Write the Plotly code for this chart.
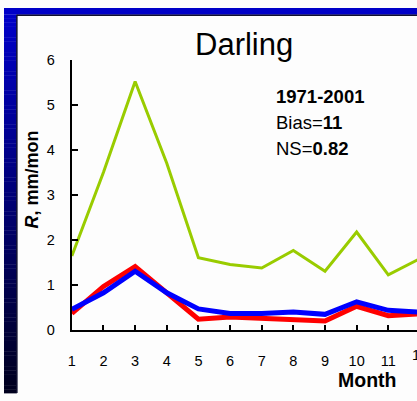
import plotly.graph_objects as go

# Monthly runoff, mm/mon
months = [1, 2, 3, 4, 5, 6, 7, 8, 9, 10, 11, 12]
green_vals = [1.64, 3.50, 5.52, 3.70, 1.60, 1.45, 1.37, 1.76, 1.30, 2.17, 1.22, 1.58]
red_vals = [0.36, 0.96, 1.40, 0.82, 0.23, 0.28, 0.25, 0.22, 0.19, 0.52, 0.31, 0.35]
blue_vals = [0.45, 0.82, 1.30, 0.82, 0.46, 0.36, 0.36, 0.39, 0.34, 0.62, 0.43, 0.39]
y_ticks = [0, 1, 2, 3, 4, 5, 6]
x_ticks = months

title_text = "Darling"
period_text = "1971-2001"
bias_text = "Bias=<b>11</b>"
ns_text = "NS=<b>0.82</b>"

W, H = 417, 401
FONT = "Arial, Liberation Sans, sans-serif"

# pixel geometry of the plotting area
ax_left = 68.5
px_per_month = 31.95
ax_bottom = 335.0
ax_top = 54.0

fig = go.Figure()
fig.add_trace(go.Scatter(x=months, y=green_vals, mode="lines",
                         line=dict(color="#99CC00", width=3), showlegend=False))
fig.add_trace(go.Scatter(x=months, y=red_vals, mode="lines",
                         line=dict(color="#FF0000", width=5), showlegend=False))
fig.add_trace(go.Scatter(x=months, y=blue_vals, mode="lines",
                         line=dict(color="#0000FF", width=5), showlegend=False))

x_max = 1 + (W - ax_left) / px_per_month

shapes = []
# blue frame along the top
shapes.append(dict(type="rect", xref="paper", yref="paper", x0=0, x1=1,
                   y0=1 - 7 / H, y1=1, fillcolor="#0000C8", line_width=0, layer="below"))
shapes.append(dict(type="line", xref="paper", yref="paper", x0=13 / W, x1=1,
                   y0=1 - 7.5 / H, y1=1 - 7.5 / H, line=dict(color="#101030", width=1.5), layer="below"))
# left frame with a blue-to-dark vertical gradient
n_strips = 100
top_c = (0, 0, 200)
bot_c = (0, 0, 30)
for i in range(n_strips):
    t = i / (n_strips - 1)
    c = tuple(int(round(top_c[k] + (bot_c[k] - top_c[k]) * t)) for k in range(3))
    y_top = 7 + (H - 7) * i / n_strips
    y_bot = 7 + (H - 7) * (i + 1) / n_strips
    shapes.append(dict(type="rect", xref="paper", yref="paper", x0=0, x1=13 / W,
                       y0=1 - y_bot / H - 0.001, y1=1 - y_top / H,
                       fillcolor="rgb(%d,%d,%d)" % c, line_width=0, layer="below"))
shapes.append(dict(type="line", xref="paper", yref="paper", x0=13 / W, x1=13 / W,
                   y0=0, y1=1 - 7 / H, line=dict(color="#101030", width=1.5), layer="below"))

annotations = [
    dict(text=title_text, x=242 / W, y=1 - 38 / H, xref="paper", yref="paper",
         showarrow=False, xanchor="center", yanchor="middle",
         font=dict(family=FONT, size=31, color="#000000")),
    dict(text="<b>" + period_text + "</b>", x=273 / W, y=1 - 92.5 / H, xref="paper", yref="paper",
         showarrow=False, xanchor="left", yanchor="middle",
         font=dict(family=FONT, size=18.5, color="#000000")),
    dict(text=bias_text, x=273 / W, y=1 - 119.2 / H, xref="paper", yref="paper",
         showarrow=False, xanchor="left", yanchor="middle",
         font=dict(family=FONT, size=18.5, color="#000000")),
    dict(text=ns_text, x=273 / W, y=1 - 146 / H, xref="paper", yref="paper",
         showarrow=False, xanchor="left", yanchor="middle",
         font=dict(family=FONT, size=18.5, color="#000000")),
    dict(text="<b><i>R</i>, mm/mon</b>", x=28 / W, y=1 - 179 / H, xref="paper", yref="paper",
         showarrow=False, xanchor="center", yanchor="middle", textangle=-90,
         font=dict(family=FONT, size=18, color="#000000")),
    dict(text="<b>Month</b>", x=366.5 / W, y=1 - 387.5 / H, xref="paper", yref="paper",
         showarrow=False, xanchor="center", yanchor="middle",
         font=dict(family=FONT, size=19.5, color="#000000")),
    # last month label sits past the right edge of the axis range
    dict(text=str(x_ticks[-1]), x=(ax_left + (x_ticks[-1] - 1) * px_per_month) / W,
         y=1 - 361 / H, xref="paper", yref="paper",
         showarrow=False, xanchor="center", yanchor="middle",
         font=dict(family=FONT, size=14.5, color="#000000")),
]

fig.update_layout(
    width=W, height=H,
    margin=dict(l=0, r=0, t=0, b=0),
    paper_bgcolor="#FDFDFD",
    plot_bgcolor="#FDFDFD",
    shapes=shapes,
    annotations=annotations,
    xaxis=dict(domain=[ax_left / W, 1], range=[1, x_max],
               tickmode="array", tickvals=x_ticks[:-1], ticktext=[str(v) for v in x_ticks[:-1]],
               ticks="inside", ticklen=5, tickwidth=1.5, tickcolor="#000000",
               showline=True, linecolor="#000000", linewidth=2,
               showgrid=False, zeroline=False, ticklabelstandoff=17,
               tickfont=dict(family=FONT, size=14.5, color="#000000")),
    yaxis=dict(domain=[1 - ax_bottom / H, 1 - ax_top / H], range=[0, 6],
               tickmode="array", tickvals=y_ticks,
               ticks="inside", ticklen=6, tickwidth=1.5, tickcolor="#000000",
               showline=True, linecolor="#000000", linewidth=2,
               showgrid=False, zeroline=False, ticklabelstandoff=12,
               tickfont=dict(family=FONT, size=14.5, color="#000000")),
)

fig.write_html("out.html")
